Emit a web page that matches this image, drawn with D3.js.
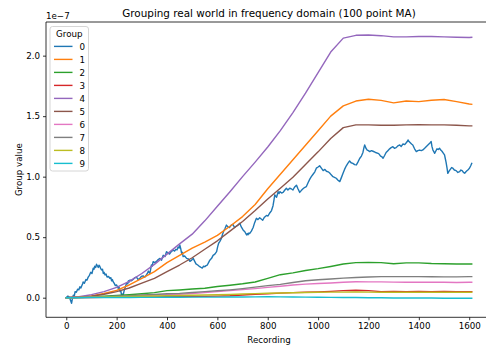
<!DOCTYPE html>
<html>
<head>
<meta charset="utf-8">
<script src="https://cdn.jsdelivr.net/npm/d3@7/dist/d3.min.js"></script>
<style>
  html, body { margin: 0; padding: 0; background: #fff; }
  svg { display: block; font-family: "DejaVu Sans", sans-serif; }
</style>
</head>
<body>
<svg id="chart" width="486" height="347"></svg>
<script>
// Values are in units of 1e-7 (shown as the axis offset label).
const groups = ["0", "1", "2", "3", "4", "5", "6", "7", "8", "9"];
const colors = ["#1f77b4", "#ff7f0e", "#2ca02c", "#d62728", "#9467bd",
                "#8c564b", "#e377c2", "#7f7f7f", "#bcbd22", "#17becf"];

// Group 0 is noisy, so it is sampled on its own recording positions.
const group0Recordings = [
  0, 5, 10, 15, 21, 25, 28, 32, 35, 40, 45, 50, 54, 58, 62, 65, 67, 72, 78, 82,
  87, 92, 97, 102, 107, 110, 113, 117, 120, 124, 127, 130, 133, 137, 140, 144, 147, 150, 154, 158,
  162, 168, 173, 177, 180, 183, 186, 190, 195, 200, 206, 210, 214, 217, 220, 223, 226, 230, 233, 236,
  240, 244, 247, 250, 253, 259, 265, 272, 279, 285, 292, 298, 305, 312, 319, 322, 326, 329, 332, 335,
  338, 341, 345, 352, 358, 365, 372, 378, 385, 392, 398, 404, 410, 417, 425, 430, 435, 440, 444, 448,
  451, 455, 458, 461, 464, 470, 478, 485, 491, 498, 504, 510, 515, 522, 530, 535, 540, 545, 550, 555,
  560, 565, 570, 577, 583, 590, 597, 601, 605, 610, 616, 620, 625, 630, 636, 642, 648, 655, 662, 668,
  675, 682, 689, 695, 702, 709, 716, 719, 722, 725, 728, 735, 742, 748, 755, 761, 768, 774, 780, 787,
  795, 801, 808, 815, 821, 825, 828, 831, 835, 838, 841, 845, 848, 855, 861, 868, 874, 880, 887, 893,
  900, 907, 914, 920, 927, 933, 940, 946, 953, 960, 967, 973, 980, 987, 993, 1000, 1006, 1013, 1020, 1027,
  1033, 1040, 1046, 1052, 1059, 1065, 1072, 1079, 1086, 1092, 1099, 1105, 1112, 1118, 1125, 1131, 1138, 1145, 1152, 1158,
  1165, 1172, 1178, 1182, 1185, 1190, 1195, 1200, 1205, 1212, 1218, 1228, 1238, 1243, 1248, 1253, 1258, 1264, 1270, 1277,
  1284, 1290, 1297, 1303, 1310, 1317, 1324, 1330, 1337, 1344, 1350, 1354, 1357, 1361, 1366, 1371, 1376, 1383, 1390, 1396,
  1403, 1410, 1416, 1423, 1430, 1435, 1440, 1445, 1449, 1452, 1456, 1460, 1463, 1467, 1472, 1477, 1482, 1487, 1492, 1497,
  1502, 1505, 1508, 1512, 1515, 1520, 1525, 1530, 1535, 1541, 1548, 1555, 1562, 1567, 1572, 1577, 1582, 1587, 1592, 1597,
  1601, 1606, 1610];
const group0 = [
  0, 0.012, 0.01, -0.01, -0.046, 0.0, 0.02, 0.015, 0.05, 0.045, 0.07, 0.065, 0.09, 0.08, 0.10, 0.115, 0.13, 0.12, 0.15, 0.145,
  0.17, 0.185, 0.21, 0.2, 0.243, 0.235, 0.26, 0.25, 0.276, 0.262, 0.25, 0.268, 0.26, 0.24, 0.229, 0.235, 0.20, 0.21, 0.188, 0.195,
  0.17, 0.175, 0.16, 0.165, 0.14, 0.15, 0.132, 0.12, 0.10, 0.105, 0.078, 0.085, 0.05, 0.055, 0.01, 0.03, 0.022, 0.06, 0.078, 0.1,
  0.12, 0.115, 0.14, 0.13, 0.146, 0.14, 0.15, 0.165, 0.17, 0.15, 0.16, 0.175, 0.18, 0.17, 0.19, 0.2, 0.22, 0.21, 0.20, 0.235,
  0.27, 0.26, 0.298, 0.29, 0.30, 0.315, 0.325, 0.31, 0.35, 0.34, 0.38, 0.37, 0.36, 0.38, 0.394, 0.385, 0.40, 0.395, 0.42, 0.41,
  0.435, 0.4, 0.367, 0.375, 0.34, 0.345, 0.325, 0.32, 0.30, 0.31, 0.325, 0.3, 0.28, 0.27, 0.256, 0.25, 0.245, 0.26, 0.256, 0.265,
  0.27, 0.29, 0.31, 0.325, 0.35, 0.36, 0.38, 0.42, 0.45, 0.465, 0.49, 0.52, 0.55, 0.57, 0.60, 0.585, 0.58, 0.6, 0.605, 0.58,
  0.59, 0.6, 0.615, 0.585, 0.56, 0.545, 0.518, 0.53, 0.52, 0.535, 0.53, 0.55, 0.58, 0.62, 0.656, 0.645, 0.66, 0.65, 0.64, 0.665,
  0.68, 0.675, 0.70, 0.72, 0.76, 0.81, 0.85, 0.84, 0.83, 0.85, 0.876, 0.86, 0.876, 0.865, 0.87, 0.89, 0.904, 0.89, 0.905, 0.9,
  0.89, 0.915, 0.93, 0.9, 0.87, 0.885, 0.90, 0.91, 0.917, 0.95, 0.98, 1.0, 1.02, 1.04, 1.07, 1.08, 1.09, 1.07, 1.05, 1.06,
  1.045, 1.04, 1.03, 1.015, 1.00, 0.995, 0.987, 0.97, 0.959, 0.99, 1.028, 1.06, 1.09, 1.11, 1.13, 1.115, 1.11, 1.1, 1.097, 1.12,
  1.15, 1.17, 1.20, 1.24, 1.262, 1.235, 1.22, 1.215, 1.207, 1.215, 1.21, 1.2, 1.193, 1.185, 1.17, 1.165, 1.152, 1.175, 1.20, 1.215,
  1.23, 1.24, 1.248, 1.235, 1.24, 1.255, 1.262, 1.25, 1.27, 1.265, 1.28, 1.29, 1.303, 1.29, 1.28, 1.27, 1.262, 1.23, 1.207, 1.215,
  1.22, 1.215, 1.221, 1.235, 1.25, 1.26, 1.27, 1.28, 1.29, 1.25, 1.22, 1.205, 1.193, 1.21, 1.23, 1.225, 1.235, 1.22, 1.21, 1.195,
  1.18, 1.15, 1.12, 1.07, 1.028, 1.045, 1.06, 1.075, 1.07, 1.055, 1.05, 1.035, 1.041, 1.055, 1.05, 1.035, 1.028, 1.04, 1.05, 1.06,
  1.07, 1.09, 1.11];

// Smooth groups share one recording grid.
const recordings = [0, 50, 100, 150, 200, 250, 300, 350, 400, 450, 500, 550, 600, 650, 700, 750, 800,
  850, 900, 950, 1000, 1050, 1100, 1150, 1200, 1250, 1300, 1350, 1400, 1450, 1500, 1550, 1600, 1610];
const group1 = [0, 0.005, 0.015, 0.035, 0.06, 0.105, 0.16, 0.215, 0.29, 0.35, 0.41, 0.46, 0.515, 0.59, 0.67, 0.77, 0.9,
  1.02, 1.14, 1.26, 1.38, 1.5, 1.585, 1.625, 1.64, 1.63, 1.61, 1.625, 1.62, 1.632, 1.638, 1.62, 1.6, 1.598];
const group2 = [0, 0.004, 0.008, 0.013, 0.018, 0.024, 0.032, 0.042, 0.058, 0.064, 0.072, 0.078, 0.092, 0.103, 0.115, 0.13, 0.16,
  0.19, 0.205, 0.225, 0.24, 0.258, 0.278, 0.29, 0.292, 0.29, 0.28, 0.288, 0.288, 0.282, 0.28, 0.279, 0.278, 0.278];
const group3 = [0, 0.001, 0.002, 0.003, 0.004, 0.005, 0.006, 0.007, 0.008, 0.01, 0.01, 0.011, 0.013, 0.016, 0.022, 0.028, 0.033,
  0.038, 0.042, 0.045, 0.048, 0.052, 0.058, 0.062, 0.058, 0.05, 0.052, 0.05, 0.052, 0.05, 0.051, 0.05, 0.05, 0.05];
const group4 = [0, 0.008, 0.025, 0.05, 0.085, 0.135, 0.2, 0.275, 0.36, 0.445, 0.525, 0.635, 0.755, 0.875, 1.0, 1.12, 1.245,
  1.38, 1.53, 1.69, 1.86, 2.03, 2.145, 2.168, 2.17, 2.165, 2.155, 2.155, 2.158, 2.158, 2.155, 2.152, 2.15, 2.152];
const group5 = [0, 0.004, 0.012, 0.028, 0.05, 0.08, 0.12, 0.16, 0.215, 0.27, 0.33, 0.4, 0.47, 0.55, 0.63, 0.72, 0.815,
  0.905, 0.995, 1.1, 1.205, 1.315, 1.405, 1.428, 1.428, 1.425, 1.425, 1.428, 1.43, 1.428, 1.428, 1.425, 1.42, 1.42];
const group6 = [0, 0.002, 0.004, 0.007, 0.01, 0.013, 0.017, 0.021, 0.025, 0.028, 0.035, 0.042, 0.05, 0.058, 0.067, 0.075, 0.085,
  0.095, 0.105, 0.112, 0.117, 0.122, 0.128, 0.132, 0.131, 0.131, 0.129, 0.128, 0.128, 0.127, 0.127, 0.126, 0.127, 0.127];
const group7 = [0, 0.002, 0.005, 0.009, 0.013, 0.017, 0.022, 0.027, 0.032, 0.036, 0.043, 0.05, 0.057, 0.065, 0.075, 0.087, 0.1,
  0.11, 0.125, 0.14, 0.148, 0.155, 0.162, 0.167, 0.171, 0.174, 0.174, 0.174, 0.174, 0.173, 0.172, 0.172, 0.174, 0.174];
const group8 = [0, 0.002, 0.004, 0.006, 0.008, 0.01, 0.012, 0.014, 0.016, 0.018, 0.02, 0.022, 0.024, 0.027, 0.03, 0.034, 0.037,
  0.039, 0.041, 0.043, 0.045, 0.046, 0.046, 0.047, 0.046, 0.045, 0.045, 0.045, 0.045, 0.045, 0.045, 0.045, 0.045, 0.045];
const group9 = [0, 0, 0.001, 0.001, 0.002, 0.002, 0.003, 0.003, 0.004, 0.004, 0.005, 0.005, 0.005, 0.006, 0.006, 0.007, 0.008,
  0.007, 0.006, 0.005, 0.004, 0.003, 0.002, 0.001, 0, -0.001, -0.002, -0.002, -0.003, -0.003, -0.004, -0.004, -0.004, -0.004];

const xTicks = [0, 200, 400, 600, 800, 1000, 1200, 1400, 1600];
const yTicks = [0, 0.5, 1.0, 1.5, 2.0];
const yTickLabels = ["0.0", "0.5", "1.0", "1.5", "2.0"];

const titleText = "Grouping real world in frequency domain (100 point MA)";
const xLabel = "Recording";
const yLabel = "Group value";
const offsetLabel = "1e\u22127";
const legendTitle = "Group";

// Series table built from the arrays above.
const series = [
  { name: groups[0], xs: group0Recordings, ys: group0 },
  { name: groups[1], xs: recordings, ys: group1 },
  { name: groups[2], xs: recordings, ys: group2 },
  { name: groups[3], xs: recordings, ys: group3 },
  { name: groups[4], xs: recordings, ys: group4 },
  { name: groups[5], xs: recordings, ys: group5 },
  { name: groups[6], xs: recordings, ys: group6 },
  { name: groups[7], xs: recordings, ys: group7 },
  { name: groups[8], xs: recordings, ys: group8 },
  { name: groups[9], xs: recordings, ys: group9 }
];

const svg = d3.select("#chart");
const plot = { left: 46, top: 22, right: 492, bottom: 317.3 };
const fontSize = 8.7;

const x = d3.scaleLinear().domain([-80.5, 1690.5]).range([plot.left, plot.right]);
const y = d3.scaleLinear().domain([-0.162, 2.278]).range([plot.bottom, plot.top]);

// Lines
const line = d3.line().x(d => x(d[0])).y(d => y(d[1]));
const lines = svg.append("g");
series.forEach((s, i) => {
  lines.append("path")
    .datum(s.xs.map((r, k) => [r, s.ys[k]]))
    .attr("d", line)
    .attr("fill", "none")
    .attr("stroke", colors[i])
    .attr("stroke-width", 1.4)
    .attr("stroke-linejoin", "round")
    .attr("stroke-linecap", "square");
});

// Axes
const xAxis = d3.axisBottom(x).tickValues(xTicks).tickSize(3).tickPadding(3).tickFormat(d3.format("d"));
const yAxis = d3.axisLeft(y).tickValues(yTicks).tickSize(3).tickPadding(3)
  .tickFormat((d, i) => yTickLabels[i]);

const gx = svg.append("g").attr("transform", `translate(0,${plot.bottom})`).call(xAxis);
const gy = svg.append("g").attr("transform", `translate(${plot.left},0)`).call(yAxis);
[gx, gy].forEach(g => {
  g.select(".domain").remove();
  g.selectAll(".tick line").attr("stroke", "#000").attr("stroke-width", 0.8);
  g.selectAll(".tick text").attr("fill", "#000").attr("font-size", fontSize)
    .attr("font-family", "DejaVu Sans, sans-serif");
});

// Spines (right spine falls outside the visible area)
const spines = svg.append("g").attr("stroke", "#000").attr("stroke-width", 0.8).attr("fill", "none");
spines.append("line").attr("x1", plot.left).attr("x2", plot.left).attr("y1", plot.top).attr("y2", plot.bottom);
spines.append("line").attr("x1", plot.left).attr("x2", plot.right).attr("y1", plot.bottom).attr("y2", plot.bottom);
spines.append("line").attr("x1", plot.left).attr("x2", plot.right).attr("y1", plot.top).attr("y2", plot.top);
spines.append("line").attr("x1", plot.right).attr("x2", plot.right).attr("y1", plot.top).attr("y2", plot.bottom);

// Texts
svg.append("text").attr("x", (plot.left + plot.right) / 2).attr("y", 16.5)
  .attr("text-anchor", "middle").attr("font-size", 10.4).text(titleText);
svg.append("text").attr("x", (plot.left + plot.right) / 2).attr("y", 342.5)
  .attr("text-anchor", "middle").attr("font-size", fontSize).text(xLabel);
svg.append("text").attr("transform", `translate(21.5,${(plot.top + plot.bottom) / 2}) rotate(-90)`)
  .attr("text-anchor", "middle").attr("font-size", fontSize).text(yLabel);
svg.append("text").attr("x", plot.left).attr("y", 19)
  .attr("font-size", fontSize).text(offsetLabel);

// Legend
const legend = svg.append("g");
legend.append("rect").attr("x", 50).attr("y", 26.5).attr("width", 38.5).attr("height", 144.5)
  .attr("rx", 2.5).attr("fill", "#fff").attr("fill-opacity", 0.8)
  .attr("stroke", "#cccccc").attr("stroke-width", 0.8);
legend.append("text").attr("x", 69.3).attr("y", 37.2).attr("text-anchor", "middle")
  .attr("font-size", fontSize).text(legendTitle);
const legendRow = d3.scaleLinear().domain([0, 9]).range([46.4, 163.4]);
series.forEach((s, i) => {
  const ly = legendRow(i);
  legend.append("line").attr("x1", 54).attr("x2", 72.5).attr("y1", ly).attr("y2", ly)
    .attr("stroke", colors[i]).attr("stroke-width", 1.4);
  legend.append("text").attr("x", 79.5).attr("y", ly + 3.1).attr("font-size", fontSize).text(s.name);
});
</script>
</body>
</html>
